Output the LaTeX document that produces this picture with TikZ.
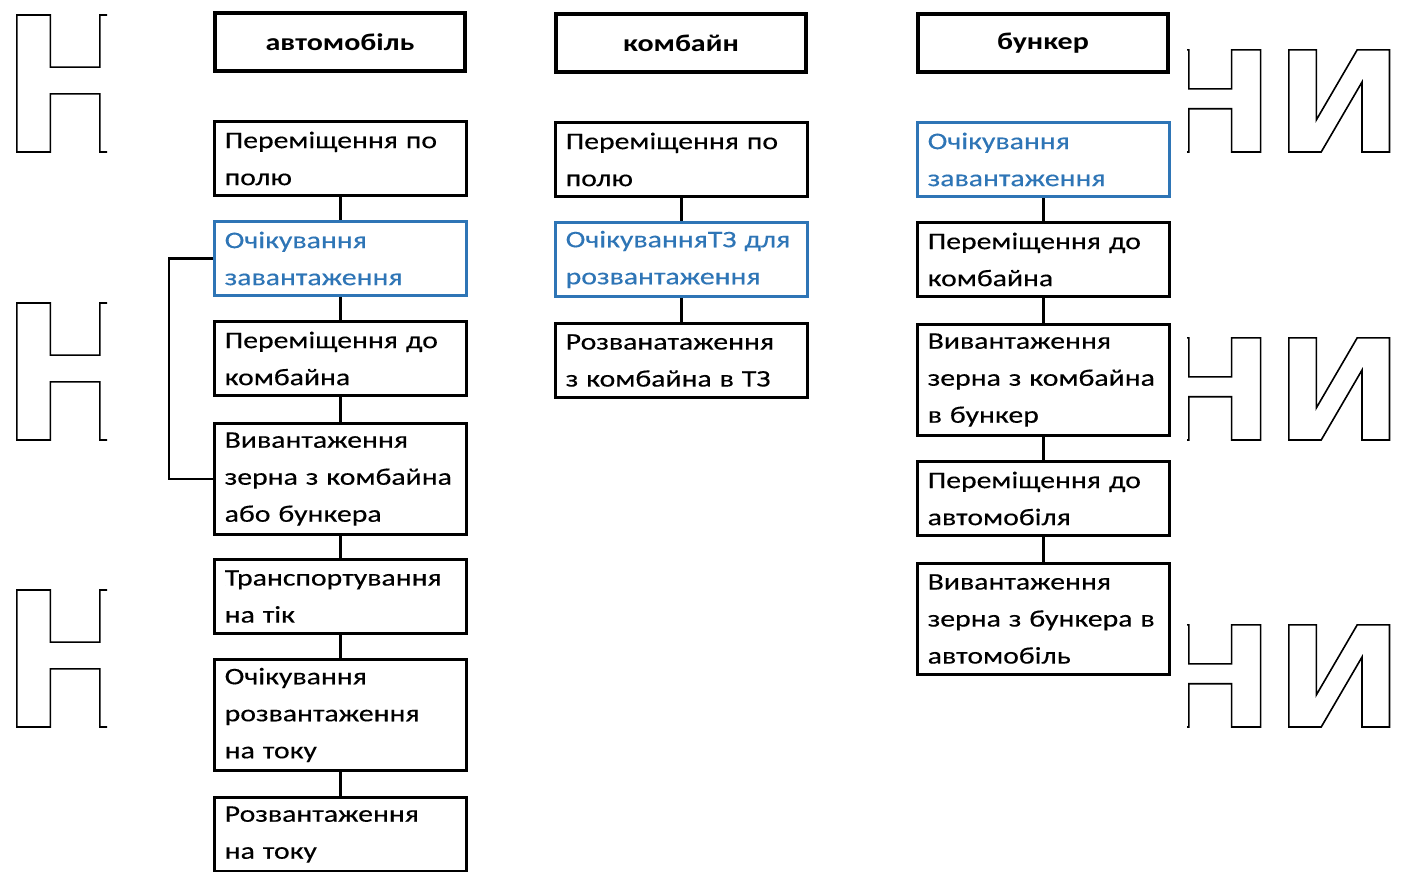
\documentclass[tikz,border=0pt]{standalone}
\usepackage{fontspec}
\setmainfont{Carlito}[FakeStretch=1.25, UprightFeatures={FakeBold=0.3}]
\newfontfamily\ghostfont{DejaVu Sans Bold}[FakeStretch=0.95]
\newfontfamily\ghostwide{DejaVu Sans Bold}[FakeStretch=1.1]
\usepackage{tikz}
\usetikzlibrary{positioning}
\definecolor{Ink}{HTML}{000000}
\definecolor{WaitBlue}{HTML}{2E75B6}
\newcommand{\hollow}[1]{\special{pdf:literal direct 1 Tr 0.8 w}#1\special{pdf:literal direct 0 Tr}}
\tikzset{
  head/.style={draw=Ink, fill=white, line width=2pt, minimum width=125pt, minimum height=29pt, inner sep=0pt, font=\bfseries\fontsize{12}{14}\selectfont},
  stage/.style={draw=Ink, fill=white, line width=1.7pt, text width=116pt, inner xsep=5pt, inner ysep=0pt, align=left, anchor=north west, font=\fontsize{11.9}{18.5}\selectfont},
  wait/.style={stage, draw=WaitBlue, text=WaitBlue},
  two/.style={minimum height=36.8pt},
  three/.style={minimum height=55.3pt},
  link/.style={line width=1.4pt, color=Ink},
  ghost/.style={inner sep=0pt, font=\ghostfont\fontsize{94}{94}\selectfont},
  ghostpair/.style={inner sep=0pt, font=\ghostwide\fontsize{70}{70}\selectfont},
}

\begin{document}
\begin{tikzpicture}[x=0.5pt, y=-0.5pt]
  \useasboundingbox (0,0) rectangle (1408,872);

  % Hollow letters at the margins (only partly printed)
  \begin{scope}
    \clip (0,0) rectangle (107,872);
    \foreach \y/\n in {152/a,440/b,727/c}
      \node[ghost, anchor=base west] (lh\n) at (0,\y) {\hollow{Н}};
  \end{scope}
  \begin{scope}
    \clip (1187,0) rectangle (1408,872);
    \foreach \y/\n in {152/a,440/b,727/c}
      \node[ghostpair, anchor=base east] (rh\n) at (1404,\y) {\hollow{НИ}};
  \end{scope}

  % Car column
  \node[head] (car) at (340,42) {автомобіль};
  \node[stage, two] (car1) at (213,120) {Переміщення по\\полю};
  \node[wait, two] (car2) at (213,220) {Очікування\\завантаження};
  \node[stage, two] (car3) at (213,320) {Переміщення до\\комбайна};
  \node[stage, three] (car4) at (213,422) {Вивантаження\\зерна з комбайна\\або бункера};
  \node[stage, two] (car5) at (213,558) {Транспортування\\на тік};
  \node[stage, three] (car6) at (213,658) {Очікування\\розвантаження\\на току};
  \node[stage, two] (car7) at (213,796) {Розвантаження\\на току};

  % Combine column
  \node[head] (comb) at (681,43) {комбайн};
  \node[stage, two] (comb1) at (554,121) {Переміщення по\\полю};
  \node[wait, two] (comb2) at (554,221) {ОчікуванняТЗ для\\розвантаження};
  \node[stage, two] (comb3) at (554,322) {Розванатаження\\з комбайна в ТЗ};

  % Bunker column
  \node[head] (bunk) at (1043,43) {бункер};
  \node[wait, two] (bunk1) at (916,121) {Очікування\\завантаження};
  \node[stage, two] (bunk2) at (916,221) {Переміщення до\\комбайна};
  \node[stage, three] (bunk3) at (916,323) {Вивантаження\\зерна з комбайна\\в бункер};
  \node[stage, two] (bunk4) at (916,460) {Переміщення до\\автомобіля};
  \node[stage, three] (bunk5) at (916,562) {Вивантаження\\зерна з бункера в\\автомобіль};

  % Links
  \foreach \a/\b in {car1/car2,car2/car3,car3/car4,car4/car5,car5/car6,car6/car7,
                     comb1/comb2,comb2/comb3,
                     bunk1/bunk2,bunk2/bunk3,bunk3/bunk4,bunk4/bunk5}{
    \draw[link] (\a.south) -- (\b.north);
  }
  \draw[link] (car2.west) -- ++(-44,0) |- (car4.west);
\end{tikzpicture}
\end{document}
